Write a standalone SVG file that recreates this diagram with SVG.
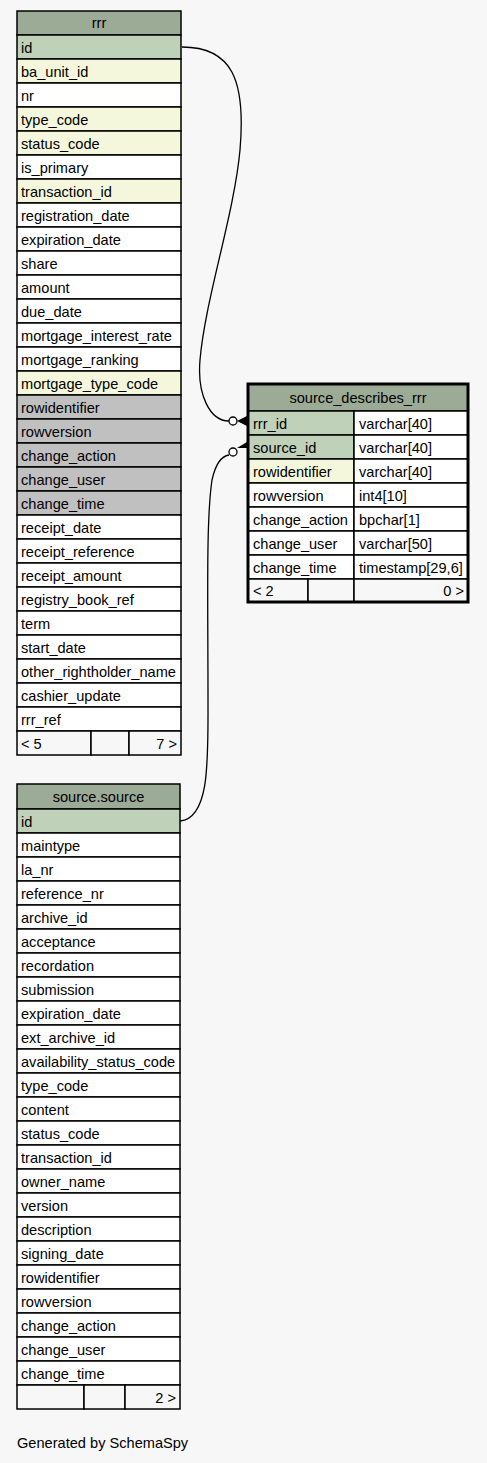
<svg xmlns="http://www.w3.org/2000/svg" width="487" height="1463" viewBox="0 0 487 1463">
<style>
text{font-family:"Liberation Sans",Arial,sans-serif;font-size:14.6px;fill:#000}
.c{stroke:#000;stroke-width:1.5}
.h{fill:#9cab96}
.pk{fill:#bfd2b9}
.ix{fill:#f4f7dc}
.gr{fill:#c0c0c0}
.w{fill:#fff}
.f{fill:#f7f7f7}
.mid{text-anchor:middle}
.end{text-anchor:end}
.edge{fill:none;stroke:#000;stroke-width:1.3}
</style>
<rect width="487" height="1463" fill="#f7f7f7"/>
<g id="rrr">
<rect class="c h" x="17" y="11" width="164" height="24"/>
<text class="mid" x="99" y="28">rrr</text>
<rect class="c pk" x="17" y="35" width="164" height="24"/><text x="21" y="53">id</text>
<rect class="c ix" x="17" y="59" width="164" height="24"/><text x="21" y="77">ba_unit_id</text>
<rect class="c w" x="17" y="83" width="164" height="24"/><text x="21" y="101">nr</text>
<rect class="c ix" x="17" y="107" width="164" height="24"/><text x="21" y="125">type_code</text>
<rect class="c ix" x="17" y="131" width="164" height="24"/><text x="21" y="149">status_code</text>
<rect class="c w" x="17" y="155" width="164" height="24"/><text x="21" y="173">is_primary</text>
<rect class="c ix" x="17" y="179" width="164" height="24"/><text x="21" y="197">transaction_id</text>
<rect class="c w" x="17" y="203" width="164" height="24"/><text x="21" y="221">registration_date</text>
<rect class="c w" x="17" y="227" width="164" height="24"/><text x="21" y="245">expiration_date</text>
<rect class="c w" x="17" y="251" width="164" height="24"/><text x="21" y="269">share</text>
<rect class="c w" x="17" y="275" width="164" height="24"/><text x="21" y="293">amount</text>
<rect class="c w" x="17" y="299" width="164" height="24"/><text x="21" y="317">due_date</text>
<rect class="c w" x="17" y="323" width="164" height="24"/><text x="21" y="341">mortgage_interest_rate</text>
<rect class="c w" x="17" y="347" width="164" height="24"/><text x="21" y="365">mortgage_ranking</text>
<rect class="c ix" x="17" y="371" width="164" height="24"/><text x="21" y="389">mortgage_type_code</text>
<rect class="c gr" x="17" y="395" width="164" height="24"/><text x="21" y="413">rowidentifier</text>
<rect class="c gr" x="17" y="419" width="164" height="24"/><text x="21" y="437">rowversion</text>
<rect class="c gr" x="17" y="443" width="164" height="24"/><text x="21" y="461">change_action</text>
<rect class="c gr" x="17" y="467" width="164" height="24"/><text x="21" y="485">change_user</text>
<rect class="c gr" x="17" y="491" width="164" height="24"/><text x="21" y="509">change_time</text>
<rect class="c w" x="17" y="515" width="164" height="24"/><text x="21" y="533">receipt_date</text>
<rect class="c w" x="17" y="539" width="164" height="24"/><text x="21" y="557">receipt_reference</text>
<rect class="c w" x="17" y="563" width="164" height="24"/><text x="21" y="581">receipt_amount</text>
<rect class="c w" x="17" y="587" width="164" height="24"/><text x="21" y="605">registry_book_ref</text>
<rect class="c w" x="17" y="611" width="164" height="24"/><text x="21" y="629">term</text>
<rect class="c w" x="17" y="635" width="164" height="24"/><text x="21" y="653">start_date</text>
<rect class="c w" x="17" y="659" width="164" height="24"/><text x="21" y="677">other_rightholder_name</text>
<rect class="c w" x="17" y="683" width="164" height="24"/><text x="21" y="701">cashier_update</text>
<rect class="c w" x="17" y="707" width="164" height="24"/><text x="21" y="725">rrr_ref</text>
<rect class="c f" x="17" y="731" width="74" height="24"/>
<rect class="c f" x="91" y="731" width="38" height="24"/>
<rect class="c f" x="129" y="731" width="52" height="24"/>
<text x="21" y="749">&lt; 5</text>
<text class="end" x="177" y="749">7 &gt;</text>
</g>
<g id="source_describes_rrr">
<rect class="c h" x="248" y="384" width="220" height="27"/>
<text class="mid" x="358" y="403">source_describes_rrr</text>
<rect class="c pk" x="248" y="411" width="106" height="24"/><rect class="c w" x="354" y="411" width="114" height="24"/>
<text x="253" y="429">rrr_id</text><text x="359" y="429">varchar[40]</text>
<rect class="c pk" x="248" y="435" width="106" height="24"/><rect class="c w" x="354" y="435" width="114" height="24"/>
<text x="253" y="453">source_id</text><text x="359" y="453">varchar[40]</text>
<rect class="c ix" x="248" y="459" width="106" height="24"/><rect class="c w" x="354" y="459" width="114" height="24"/>
<text x="253" y="477">rowidentifier</text><text x="359" y="477">varchar[40]</text>
<rect class="c w" x="248" y="483" width="106" height="24"/><rect class="c w" x="354" y="483" width="114" height="24"/>
<text x="253" y="501">rowversion</text><text x="359" y="501">int4[10]</text>
<rect class="c w" x="248" y="507" width="106" height="24"/><rect class="c w" x="354" y="507" width="114" height="24"/>
<text x="253" y="525">change_action</text><text x="359" y="525">bpchar[1]</text>
<rect class="c w" x="248" y="531" width="106" height="24"/><rect class="c w" x="354" y="531" width="114" height="24"/>
<text x="253" y="549">change_user</text><text x="359" y="549">varchar[50]</text>
<rect class="c w" x="248" y="555" width="106" height="24"/><rect class="c w" x="354" y="555" width="114" height="24"/>
<text x="253" y="573">change_time</text><text x="359" y="573">timestamp[29,6]</text>
<rect class="c f" x="248" y="579" width="60" height="23"/>
<rect class="c f" x="308" y="579" width="46" height="23"/>
<rect class="c f" x="354" y="579" width="114" height="23"/>
<text x="253" y="596">&lt; 2</text>
<text class="end" x="464" y="596">0 &gt;</text>
<rect x="248" y="384" width="220" height="218" fill="none" stroke="#000" stroke-width="3"/>
</g>
<g id="source.source">
<rect class="c h" x="17" y="784" width="163" height="25"/>
<text class="mid" x="98.5" y="802">source.source</text>
<rect class="c pk" x="17" y="809" width="163" height="24"/><text x="21" y="827">id</text>
<rect class="c w" x="17" y="833" width="163" height="24"/><text x="21" y="851">maintype</text>
<rect class="c w" x="17" y="857" width="163" height="24"/><text x="21" y="875">la_nr</text>
<rect class="c w" x="17" y="881" width="163" height="24"/><text x="21" y="899">reference_nr</text>
<rect class="c w" x="17" y="905" width="163" height="24"/><text x="21" y="923">archive_id</text>
<rect class="c w" x="17" y="929" width="163" height="24"/><text x="21" y="947">acceptance</text>
<rect class="c w" x="17" y="953" width="163" height="24"/><text x="21" y="971">recordation</text>
<rect class="c w" x="17" y="977" width="163" height="24"/><text x="21" y="995">submission</text>
<rect class="c w" x="17" y="1001" width="163" height="24"/><text x="21" y="1019">expiration_date</text>
<rect class="c w" x="17" y="1025" width="163" height="24"/><text x="21" y="1043">ext_archive_id</text>
<rect class="c w" x="17" y="1049" width="163" height="24"/><text x="21" y="1067">availability_status_code</text>
<rect class="c w" x="17" y="1073" width="163" height="24"/><text x="21" y="1091">type_code</text>
<rect class="c w" x="17" y="1097" width="163" height="24"/><text x="21" y="1115">content</text>
<rect class="c w" x="17" y="1121" width="163" height="24"/><text x="21" y="1139">status_code</text>
<rect class="c w" x="17" y="1145" width="163" height="24"/><text x="21" y="1163">transaction_id</text>
<rect class="c w" x="17" y="1169" width="163" height="24"/><text x="21" y="1187">owner_name</text>
<rect class="c w" x="17" y="1193" width="163" height="24"/><text x="21" y="1211">version</text>
<rect class="c w" x="17" y="1217" width="163" height="24"/><text x="21" y="1235">description</text>
<rect class="c w" x="17" y="1241" width="163" height="24"/><text x="21" y="1259">signing_date</text>
<rect class="c w" x="17" y="1265" width="163" height="24"/><text x="21" y="1283">rowidentifier</text>
<rect class="c w" x="17" y="1289" width="163" height="24"/><text x="21" y="1307">rowversion</text>
<rect class="c w" x="17" y="1313" width="163" height="24"/><text x="21" y="1331">change_action</text>
<rect class="c w" x="17" y="1337" width="163" height="24"/><text x="21" y="1355">change_user</text>
<rect class="c w" x="17" y="1361" width="163" height="24"/><text x="21" y="1379">change_time</text>
<rect class="c f" x="17" y="1385" width="67" height="24"/>
<rect class="c f" x="84" y="1385" width="41" height="24"/>
<rect class="c f" x="125" y="1385" width="55" height="24"/>
<text class="end" x="176" y="1403">2 &gt;</text>
</g>
<g id="connectors">
<path class="edge" d="M182,47 C232,47 246,80 240,150 C234,215 205,300 200,360 C197,395 210,421 229,421"/>
<circle cx="233" cy="421" r="4" fill="#fff" stroke="#000" stroke-width="1.3"/>
<path d="M237,421 L247,416 L247,426 Z" fill="#000"/>
<path class="edge" d="M180,821 C210,818 208,760 208,700 C208,600 206,520 212,480 C216,462 222,456 229,455"/>
<circle cx="233" cy="452" r="4" fill="#fff" stroke="#000" stroke-width="1.3"/>
<path d="M237,448 L247,442 L247,448 Z" fill="#000"/>
</g>
<text x="17" y="1448">Generated by SchemaSpy</text>
</svg>
